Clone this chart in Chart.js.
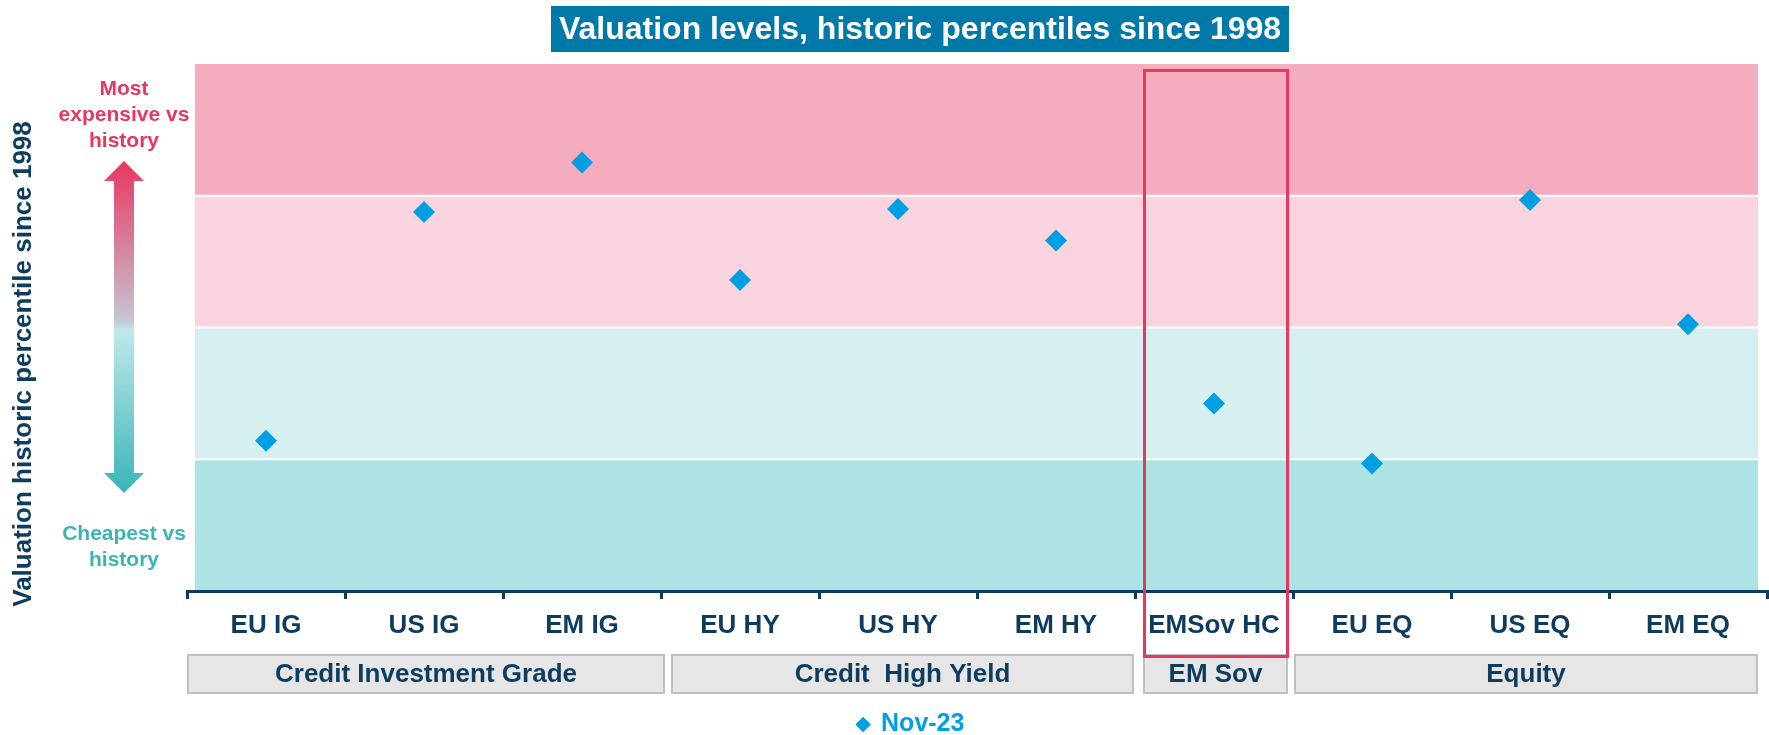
<!DOCTYPE html>
<html>
<head>
<meta charset="utf-8">
<script src="https://cdn.jsdelivr.net/npm/chart.js@4.4.1/dist/chart.umd.min.js"></script>
<style>
  body { margin: 0; background: #fff; }
  #wrap { width: 1769px; height: 735px; position: relative; }
</style>
</head>
<body>
<div id="wrap"><canvas id="valChart"></canvas></div>
<script>
// data
const categories = ['EU IG', 'US IG', 'EM IG', 'EU HY', 'US HY', 'EM HY', 'EMSov HC', 'EU EQ', 'US EQ', 'EM EQ'];
const nov23 = [28.5, 71.9, 81.3, 59.0, 72.5, 66.5, 35.6, 24.2, 74.2, 50.6];
const bandEdges = [0, 25, 50, 75, 100];
const groupLabels = ['Credit Investment Grade', 'Credit  High Yield', 'EM Sov', 'Equity'];
const groupStart = [0, 3, 6, 7];
const groupEnd = [2, 5, 6, 9];
const highlightIndex = 6;

const FONT = '"Liberation Sans", Arial, sans-serif';
const NAVY = '#0D3C5E';
const PINK = '#E6375F';
const TEAL = '#3AB4B7';
const bandColors = ['#ADE3E4', '#D6EFF1', '#F9D4DE', '#F5ACBF'];
// left/right nudges of the grey group boxes, in px from the category edges
const boxInsets = [[1, 3], [11, -2], [9, -6], [2, -10]];

const decor = {
  id: 'decor',
  afterLayout(chart) {
    // legend sits left of the plot centre in the original
    chart.legend.left -= 66;
    chart.legend.right -= 66;
  },
  beforeDraw(chart) {
    const { ctx, chartArea: a, scales: { y } } = chart;
    const left = a.left + 8, right = a.right - 9;
    ctx.save();
    for (let i = 0; i < bandColors.length; i++) {
      const top = y.getPixelForValue(bandEdges[i + 1]);
      const bot = y.getPixelForValue(bandEdges[i]);
      ctx.fillStyle = bandColors[i];
      ctx.fillRect(left, top, right - left, bot - top);
    }
    ctx.strokeStyle = '#fff';
    ctx.lineWidth = 2;
    for (let i = 1; i < bandEdges.length - 1; i++) {
      const yy = y.getPixelForValue(bandEdges[i]);
      ctx.beginPath();
      ctx.moveTo(left, yy);
      ctx.lineTo(right, yy);
      ctx.stroke();
    }
    ctx.restore();
  },
  afterDraw(chart) {
    const { ctx, chartArea: a, scales: { x } } = chart;
    const cw = x.getPixelForValue(1) - x.getPixelForValue(0);
    const edge = i => x.getPixelForValue(i) - cw / 2;
    ctx.save();

    // title box
    ctx.fillStyle = '#0078A8';
    ctx.fillRect(551, 6, 738, 46);
    ctx.fillStyle = '#fff';
    ctx.font = 'bold 32px ' + FONT;
    ctx.textAlign = 'center';
    ctx.textBaseline = 'middle';
    ctx.fillText('Valuation levels, historic percentiles since 1998', 920, 30);

    // group boxes under the axis
    ctx.font = 'bold 26px ' + FONT;
    for (let g = 0; g < groupLabels.length; g++) {
      const l = edge(groupStart[g]) + boxInsets[g][0];
      const r = edge(groupEnd[g] + 1) + boxInsets[g][1];
      ctx.fillStyle = '#E6E6E6';
      ctx.fillRect(l, a.bottom + 64, r - l, 38);
      ctx.strokeStyle = '#BFBFBF';
      ctx.lineWidth = 2;
      ctx.strokeRect(l, a.bottom + 64, r - l, 38);
      ctx.fillStyle = NAVY;
      ctx.fillText(groupLabels[g], (l + r) / 2, a.bottom + 84);
    }

    // highlight frame round EM Sov
    const hc = x.getPixelForValue(highlightIndex) + 2;
    const hw = 71.5;
    ctx.strokeStyle = '#E8365F';
    ctx.lineWidth = 3;
    ctx.strokeRect(hc - hw, a.top + 6.5, hw * 2, a.bottom + 65.5 - a.top - 6.5);

    // y title
    ctx.save();
    ctx.translate(24, 364);
    ctx.rotate(-Math.PI / 2);
    ctx.fillStyle = NAVY;
    ctx.font = 'bold 26px ' + FONT;
    ctx.fillText('Valuation historic percentile since 1998', 0, 0);
    ctx.restore();

    // side notes
    ctx.font = 'bold 21px ' + FONT;
    ctx.fillStyle = PINK;
    ctx.fillText('Most', 124, 89);
    ctx.fillText('expensive vs', 124, 115);
    ctx.fillText('history', 124, 141);
    ctx.fillStyle = TEAL;
    ctx.fillText('Cheapest vs', 124, 534);
    ctx.fillText('history', 124, 560);

    // double arrow
    const cx = 124, t = 161, b = 493;
    const grad = ctx.createLinearGradient(0, t, 0, b);
    grad.addColorStop(0, '#E6375F');
    grad.addColorStop(0.12, '#E05A7E');
    grad.addColorStop(0.36, '#CFA0B4');
    grad.addColorStop(0.48, '#C6C6D2');
    grad.addColorStop(0.51, '#BEE9EB');
    grad.addColorStop(1, '#3AB4B7');
    ctx.fillStyle = grad;
    ctx.beginPath();
    ctx.moveTo(cx, t);
    ctx.lineTo(cx + 20, t + 20);
    ctx.lineTo(cx + 10, t + 20);
    ctx.lineTo(cx + 10, b - 20);
    ctx.lineTo(cx + 20, b - 20);
    ctx.lineTo(cx, b);
    ctx.lineTo(cx - 20, b - 20);
    ctx.lineTo(cx - 10, b - 20);
    ctx.lineTo(cx - 10, t + 20);
    ctx.lineTo(cx - 20, t + 20);
    ctx.closePath();
    ctx.fill();

    ctx.restore();
  }
};

new Chart(document.getElementById('valChart'), {
  type: 'line',
  data: {
    labels: categories,
    datasets: [{
      label: 'Nov-23',
      data: nov23,
      showLine: false,
      pointStyle: 'rectRot',
      pointRadius: 11,
      pointHoverRadius: 11,
      pointBorderWidth: 0,
      backgroundColor: '#009FE3',
      borderColor: '#009FE3'
    }]
  },
  options: {
    responsive: true,
    maintainAspectRatio: false,
    animation: false,
    layout: { autoPadding: false, padding: { top: 64, left: 187, right: 2, bottom: -12 } },
    plugins: {
      tooltip: { enabled: false },
      legend: {
        position: 'bottom',
        labels: {
          usePointStyle: true,
          boxWidth: 11,
          boxHeight: 11,
          padding: 6,
          color: '#009FE3',
          font: { family: FONT, size: 25, weight: 'bold' }
        }
      }
    },
    scales: {
      x: {
        offset: true,
        afterFit: s => { s.height = 115; },
        grid: { offset: true, drawOnChartArea: false, drawTicks: true, tickLength: 8, lineWidth: 3, color: NAVY },
        border: { display: true, color: NAVY, width: 3 },
        ticks: { color: NAVY, padding: 11, font: { family: FONT, size: 26, weight: 'bold' } }
      },
      y: { display: false, min: 0, max: 100 }
    }
  },
  plugins: [decor]
});
</script>
</body>
</html>
